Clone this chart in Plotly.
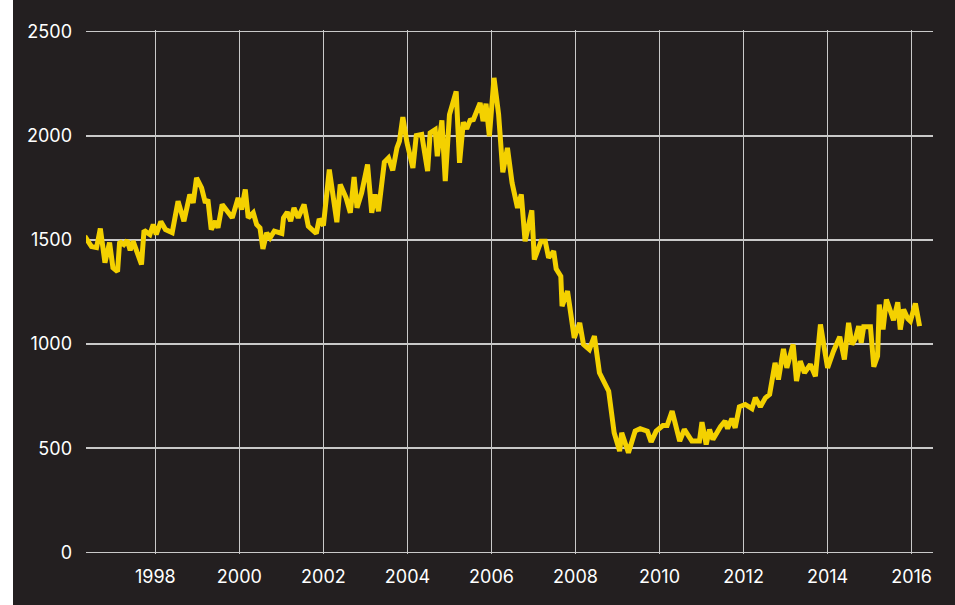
import plotly.graph_objects as go

# Decimal-year positions and values
years = [
    1996.32, 1996.48, 1996.60, 1996.69, 1996.80, 1996.91, 1996.99, 1997.10, 1997.15, 1997.25,
    1997.33, 1997.40, 1997.47, 1997.67, 1997.73, 1997.87, 1997.95, 1998.02, 1998.13, 1998.24,
    1998.40, 1998.54, 1998.68, 1998.82, 1998.90, 1998.98, 1999.10, 1999.19, 1999.25, 1999.33,
    1999.43, 1999.49, 1999.59, 1999.83, 1999.97, 2000.05, 2000.14, 2000.21, 2000.33, 2000.41,
    2000.49, 2000.56, 2000.65, 2000.73, 2000.83, 2001.01, 2001.05, 2001.14, 2001.22, 2001.30,
    2001.40, 2001.54, 2001.64, 2001.83, 2001.90, 2002.00, 2002.14, 2002.32, 2002.40, 2002.54,
    2002.64, 2002.73, 2002.80, 2002.91, 2003.05, 2003.15, 2003.23, 2003.31, 2003.45, 2003.55,
    2003.65, 2003.75, 2003.81, 2003.89, 2003.99, 2004.13, 2004.21, 2004.34, 2004.48, 2004.54,
    2004.66, 2004.71, 2004.82, 2004.90, 2005.00, 2005.16, 2005.24, 2005.33, 2005.41, 2005.49,
    2005.57, 2005.73, 2005.80, 2005.87, 2005.95, 2006.06, 2006.17, 2006.27, 2006.38, 2006.49,
    2006.62, 2006.71, 2006.80, 2006.96, 2007.02, 2007.18, 2007.28, 2007.36, 2007.48, 2007.54,
    2007.65, 2007.68, 2007.81, 2007.97, 2008.10, 2008.19, 2008.33, 2008.45, 2008.57, 2008.79,
    2008.92, 2009.05, 2009.10, 2009.26, 2009.42, 2009.54, 2009.71, 2009.80, 2009.92, 2010.08,
    2010.18, 2010.30, 2010.48, 2010.59, 2010.77, 2010.95, 2011.01, 2011.11, 2011.19, 2011.27,
    2011.45, 2011.56, 2011.62, 2011.72, 2011.80, 2011.90, 2012.04, 2012.20, 2012.28, 2012.40,
    2012.52, 2012.62, 2012.75, 2012.83, 2012.95, 2013.03, 2013.18, 2013.26, 2013.35, 2013.45,
    2013.59, 2013.71, 2013.83, 2014.00, 2014.14, 2014.29, 2014.40, 2014.50, 2014.58, 2014.66,
    2014.74, 2014.80, 2014.86, 2015.02, 2015.10, 2015.19, 2015.23, 2015.32, 2015.40, 2015.49,
    2015.57, 2015.67, 2015.73, 2015.81, 2015.91, 2015.97, 2016.09, 2016.19,
]

values = [
    1518, 1468, 1463, 1555, 1391, 1487, 1367, 1348, 1492, 1478,
    1498, 1450, 1494, 1382, 1546, 1526, 1574, 1526, 1588, 1550,
    1535, 1686, 1590, 1718, 1678, 1798, 1750, 1678, 1694, 1550,
    1590, 1558, 1670, 1606, 1702, 1646, 1742, 1606, 1630, 1574,
    1558, 1457, 1534, 1510, 1542, 1531, 1606, 1633, 1590, 1654,
    1606, 1670, 1566, 1531, 1601, 1569, 1838, 1585, 1766, 1702,
    1630, 1802, 1654, 1726, 1862, 1630, 1718, 1638, 1873, 1894,
    1834, 1942, 1974, 2090, 1966, 1846, 2001, 2006, 1830, 2014,
    2030, 1902, 2074, 1782, 2102, 2213, 1870, 2065, 2033, 2074,
    2078, 2158, 2070, 2154, 1998, 2278, 2102, 1825, 1942, 1774,
    1654, 1718, 1494, 1642, 1406, 1494, 1494, 1414, 1446, 1361,
    1326, 1182, 1254, 1030, 1102, 998, 974, 1038, 862, 774,
    574, 486, 574, 478, 582, 594, 582, 530, 582, 609,
    609, 678, 534, 590, 534, 534, 625, 518, 590, 542,
    603, 630, 594, 642, 598, 699, 710, 690, 742, 699,
    742, 758, 910, 830, 977, 886, 998, 822, 918, 862,
    902, 846, 1094, 886, 966, 1035, 926, 1102, 998, 1025,
    1086, 1006, 1083, 1083, 891, 942, 1190, 1070, 1214, 1150,
    1115, 1201, 1070, 1166, 1121, 1110, 1195, 1086,
]

x_ticks = [1998, 2000, 2002, 2004, 2006, 2008, 2010, 2012, 2014, 2016]
y_ticks = [0, 500, 1000, 1500, 2000, 2500]

BG = "#231f20"
LINE = "#f4d100"
GRID = "#c9c9c9"
FONT = "Inter"

fig = go.Figure()
fig.add_trace(go.Scatter(
    x=years, y=values, mode="lines",
    line=dict(color=LINE, width=5, shape="linear"),
    hoverinfo="skip", showlegend=False,
))

fig.update_layout(
    width=955, height=605,
    margin=dict(l=86, r=22, t=30, b=51, pad=0),
    paper_bgcolor=BG,
    plot_bgcolor="rgba(0,0,0,0)",
    font=dict(family=FONT, color="white", size=18),
    xaxis=dict(
        range=[1996.349, 2016.509],
        tickvals=x_ticks, ticktext=[str(v) for v in x_ticks],
        showgrid=True, gridcolor=GRID, gridwidth=1.5,
        zeroline=False, showline=False, ticks="",
        ticklabelstandoff=10,
        tickfont=dict(family=FONT, color="white", size=18),
    ),
    yaxis=dict(
        range=[-8, 2508],
        tickvals=y_ticks, ticktext=[str(v) for v in y_ticks],
        showgrid=True, gridcolor=GRID, gridwidth=1.5,
        zeroline=False, showline=False, ticks="",
        ticklabelstandoff=13,
        tickfont=dict(family=FONT, color="white", size=18),
    ),
)

# page tweaks: no body margin, and a thin white strip on the left edge as in the reference
post = (
    "document.body.style.margin='0';"
    "var s=document.createElement('div');"
    "s.style.cssText='position:fixed;left:0;top:0;width:13px;height:100%;background:#ffffff;z-index:10;';"
    "document.body.appendChild(s);"
)

fig.write_html(
    "out.html",
    config={"displayModeBar": False, "staticPlot": True},
    post_script=post,
)
